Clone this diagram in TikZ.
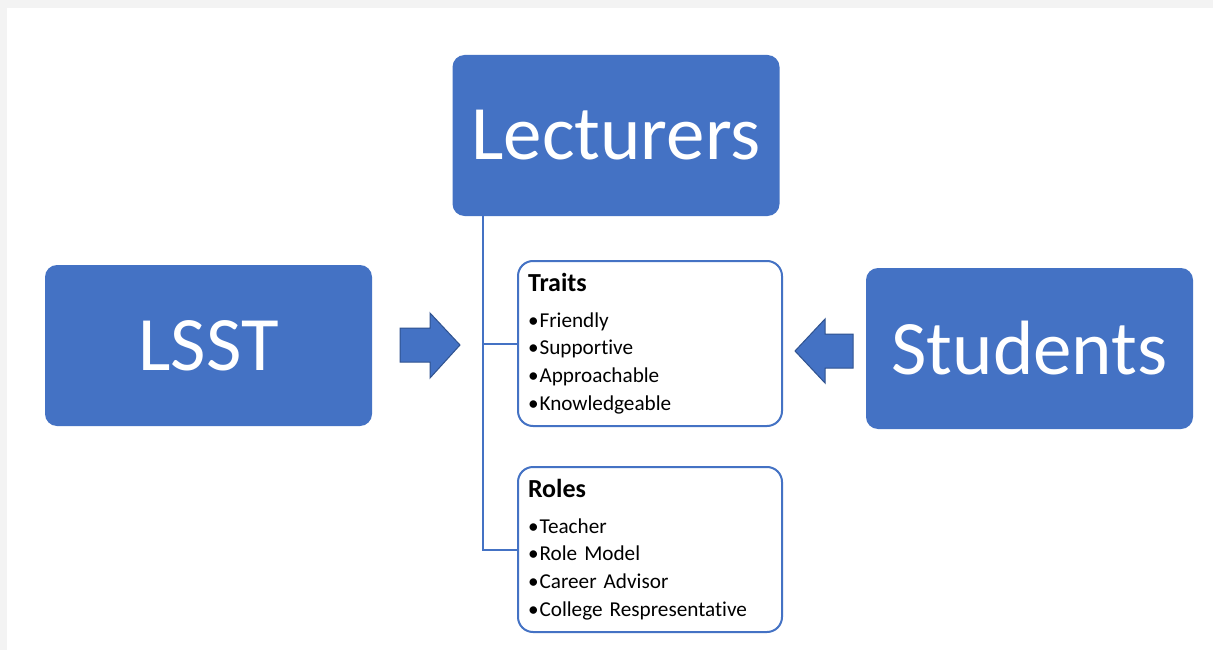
\documentclass[tikz,border=0pt]{standalone}
\usepackage{fontspec}
\setmainfont{Carlito}[Ligatures={NoCommon}]
\usepackage{tikz}

\definecolor{boxblue}{HTML}{4472C4}
\definecolor{edgeblue}{HTML}{2F528F}
\definecolor{pagegray}{HTML}{F3F3F3}

\tikzset{
  mainbox/.style={fill=boxblue, rounded corners=12pt, text=white,
    font=\fontsize{77}{90}\selectfont, minimum width=327pt,
    minimum height=161pt, inner sep=0pt},
  listbox/.style={draw=boxblue, line width=2pt, fill=white,
    rounded corners=15pt, anchor=north west, align=left,
    text width=244pt, inner xsep=10pt, inner ysep=0pt,
    minimum height=165pt, font=\fontsize{21.2}{27.7}\selectfont},
  link/.style={draw=boxblue, line width=2pt},
  blockarrow/.style={fill=boxblue, draw=edgeblue, line width=1pt, line join=miter}
}

\newcommand{\itm}[1]{\textbullet\hspace{1pt}#1}

\begin{document}
\begin{tikzpicture}[x=1pt,y=-1pt]

% page
\fill[pagegray] (0,0) rectangle (1213,650);
\fill[white] (7,8) rectangle (1213,650);

% the three main boxes
\node[mainbox] (lect) at (616,135.5) {Lecturers};
\node[mainbox] (lsst) at (208.5,345.5) {LSST};
\node[mainbox] (stud) at (1029.5,348.5) {Students};

% lists under Lecturers
\node[listbox] (traits) at (517,260) {%
  {\bfseries\fontsize{26}{28}\selectfont Traits}\\[8pt]
  \itm{Friendly}\\
  \itm{Supportive}\\
  \itm{Approachable}\\
  \itm{Knowledgeable}};
\node[listbox] (roles) at (517,466) {%
  {\bfseries\fontsize{26}{28}\selectfont Roles}\\[8pt]
  \itm{Teacher}\\
  \itm{Role Model}\\
  \itm{Career Advisor}\\
  \itm{College Respresentative}};

\draw[link] (lect.south west) ++(31,0) |- (traits.west);
\draw[link] (lect.south west) ++(31,0) |- (roles.west);

% block arrows
\filldraw[blockarrow] (400,328) -- (430,328) -- (430,313) -- (460,345)
  -- (430,378) -- (430,362) -- (400,362) -- cycle;
\filldraw[blockarrow] (853,334) -- (825,334) -- (825,319) -- (795,351)
  -- (825,383) -- (825,368) -- (853,368) -- cycle;

\end{tikzpicture}
\end{document}
